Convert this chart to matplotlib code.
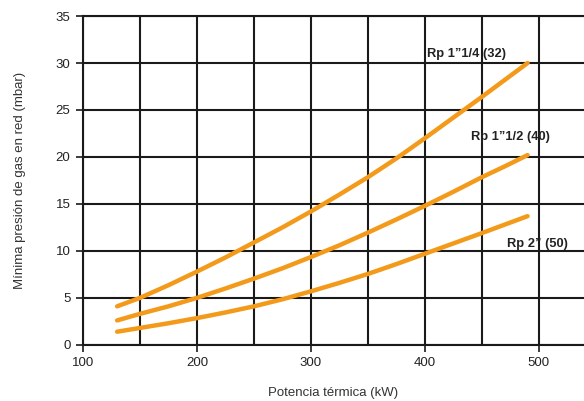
import matplotlib
matplotlib.use('Agg')
import matplotlib.pyplot as plt

plt.rcParams['font.family'] = ['Liberation Sans', 'DejaVu Sans']

# potencia termica (kW)
potencia = [130, 150, 175, 200, 225, 250, 275, 300, 325, 350, 375, 400, 425, 450, 470, 490]

# minima presion de gas (mbar) for each connection
rp_32 = [4.1, 5.0, 6.35, 7.8, 9.3, 10.9, 12.5, 14.2, 16.0, 17.85, 19.85, 22.0, 24.2, 26.4, 28.2, 30.0]
rp_40 = [2.6, 3.3, 4.1, 5.0, 6.0, 7.05, 8.15, 9.35, 10.6, 11.95, 13.35, 14.8, 16.3, 17.85, 19.0, 20.2]
rp_50 = [1.4, 1.8, 2.3, 2.85, 3.45, 4.1, 4.85, 5.7, 6.6, 7.55, 8.6, 9.7, 10.8, 11.9, 12.8, 13.7]

labels = ['Rp 1\u201d1/4 (32)', 'Rp 1\u201d1/2 (40)', 'Rp 2\u201d (50)']
label_pos = [(402, 31.0), (440, 22.1), (472, 10.7)]

orange = '#f39a1b'
grid_col = '#1a1a1a'

fig = plt.figure(figsize=(5.84, 4.01), dpi=100)
ax = fig.add_axes([0.142, 0.14, 0.858, 0.82])

for serie in [rp_32, rp_40, rp_50]:
    ax.plot(potencia, serie, color=orange, lw=3.2, solid_capstyle='round',
            solid_joinstyle='round', zorder=3)

for txt, (x, y) in zip(labels, label_pos):
    ax.text(x, y, txt, fontsize=9.3, fontweight='bold', color='#222222',
            ha='left', va='center')

ax.set_xlim(100, 539.5)
ax.set_ylim(0, 35)
ax.set_xticks([100, 200, 300, 400, 500])
ax.set_xticks([150, 250, 350, 450], minor=True)
ax.set_yticks(range(0, 36, 5))
ax.grid(True, which='both', color=grid_col, lw=1.5)
ax.tick_params(axis='x', which='minor', length=0)
ax.tick_params(axis='both', which='major', length=5, width=1.2, color=grid_col,
               labelsize=9.5, labelcolor='#222222')
ax.tick_params(axis='y', pad=4)
ax.tick_params(axis='x', pad=4)

ax.spines['right'].set_visible(False)
for s in ['left', 'bottom', 'top']:
    ax.spines[s].set_color(grid_col)
    ax.spines[s].set_linewidth(1.5)

ax.set_xlabel('Potencia térmica (kW)', fontsize=9.5, color='#333333', labelpad=13)
ax.set_ylabel('Mínima presión de gas en red (mbar)', fontsize=9.5, color='#333333', labelpad=21)

fig.savefig('out.png', dpi=100)
